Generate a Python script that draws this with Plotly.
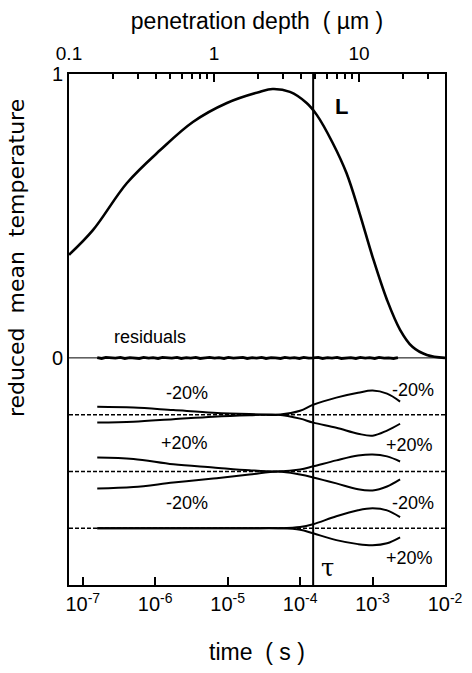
import plotly.graph_objects as go

# ---------------- data ----------------
# main curve: log10(time/s) and reduced mean temperature
main_logt = [-7.19, -6.86, -6.39, -5.93, -5.48, -5.01, -4.56, -4.38, -4.14, -3.91,
             -3.77, -3.55, -3.36, -3.18, -3.0, -2.80, -2.62, -2.45, -2.25, -2.0]
main_temp = [0.363, 0.45, 0.616, 0.732, 0.831, 0.898, 0.937, 0.947, 0.937, 0.898,
             0.856, 0.757, 0.651, 0.51, 0.356, 0.204, 0.099, 0.039, 0.01, 0.0]

# residuals (hand-read noise band around zero)
resid_logt = [-6.80, -6.74, -6.68, -6.61, -6.55, -6.48, -6.42, -6.35, -6.29, -6.22,
              -6.16, -6.09, -6.03, -5.96, -5.90, -5.83, -5.77, -5.70, -5.64, -5.57,
              -5.51, -5.44, -5.38, -5.31, -5.25, -5.18, -5.12, -5.05, -4.99, -4.92,
              -4.86, -4.79, -4.73, -4.66, -4.60, -4.53, -4.47, -4.40, -4.34, -4.27,
              -4.21, -4.14, -4.08, -4.01, -3.95, -3.88, -3.82, -3.75, -3.69, -3.62,
              -3.56, -3.49, -3.43, -3.36, -3.30, -3.23, -3.17, -3.10, -3.04, -2.97,
              -2.91, -2.84, -2.78, -2.71, -2.65]
resid_vals = [0.001, -0.002, 0.002, 0.000, -0.001, 0.002, -0.002, 0.001, 0.000, -0.002,
              0.002, -0.001, 0.001, -0.002, 0.002, 0.000, -0.001, 0.002, -0.002, 0.001,
              -0.001, 0.002, -0.002, 0.000, 0.002, -0.001, 0.001, -0.002, 0.002, -0.001,
              0.000, 0.002, -0.002, 0.001, -0.001, 0.002, -0.002, 0.001, 0.000, -0.002,
              0.002, -0.001, 0.001, -0.002, 0.002, -0.001, 0.000, 0.002, -0.002, 0.001,
              -0.001, 0.002, -0.002, 0.000, 0.001, -0.002, 0.002, -0.001, 0.001, -0.002,
              0.002, -0.001, 0.000, -0.002, 0.001]

# sensitivity curves (offsets from baseline)
sens_logt = [-6.8, -6.3, -5.75, -5.2, -4.7, -4.3, -4.0, -3.82, -3.5, -3.2, -3.0, -2.8, -2.62]
D_minus = [0.028, 0.025, 0.016, 0.007, 0.002, 0.0, 0.014, 0.035, 0.060, 0.077, 0.085, 0.074, 0.046]
D_plus = [-0.028, -0.025, -0.016, -0.007, -0.002, 0.0, -0.014, -0.028, -0.046, -0.067, -0.074, -0.056, -0.032]
K_plus = [0.049, 0.044, 0.025, 0.014, 0.004, 0.0, 0.007, 0.018, 0.039, 0.056, 0.060, 0.053, 0.035]
K_minus = [-0.060, -0.055, -0.039, -0.025, -0.011, 0.0, -0.011, -0.021, -0.042, -0.063, -0.067, -0.053, -0.028]
H_minus = [0.0, 0.0, 0.0, 0.0, 0.0, 0.0, 0.004, 0.014, 0.042, 0.063, 0.070, 0.063, 0.039]
H_plus = [0.0, 0.0, 0.0, 0.0, 0.0, 0.0, -0.005, -0.018, -0.042, -0.056, -0.060, -0.053, -0.032]

baselines = [-0.2, -0.4, -0.6]
param_names = ["D", "κ", "H<sub>L</sub>"]

tau_logt = -3.82

bottom_ticks = [-7, -6, -5, -4, -3, -2]
bottom_text = ["10<sup>-7</sup>", "10<sup>-6</sup>", "10<sup>-5</sup>",
               "10<sup>-4</sup>", "10<sup>-3</sup>", "10<sup>-2</sup>"]
top_ticks = [0.1, 1, 10]
top_text = ["0.1", "1", "10"]

# ---------------- figure ----------------
FONT = "Liberation Sans, Arial, sans-serif"
fig = go.Figure()

def T(lst):
    return [10 ** v for v in lst]

X0, X1 = 10 ** -7.19, 10 ** -2

# zero line and dashed baselines
fig.add_trace(go.Scatter(x=[X0, X1], y=[0, 0], mode="lines",
                         line=dict(color="black", width=1), hoverinfo="skip"))
for b in baselines:
    fig.add_trace(go.Scatter(x=[X0, X1], y=[b, b], mode="lines",
                             line=dict(color="black", width=1.5, dash="4px,2px"), hoverinfo="skip"))

# residuals
fig.add_trace(go.Scatter(x=T(resid_logt), y=resid_vals, mode="lines",
                         line=dict(color="black", width=2.8)))

# main curve
fig.add_trace(go.Scatter(x=T(main_logt), y=main_temp, mode="lines", line_shape="spline",
                         line=dict(color="black", width=2.6)))

# sensitivity curves
for base, up, lo in zip(baselines, [D_minus, K_plus, H_minus], [D_plus, K_minus, H_plus]):
    for off in (up, lo):
        fig.add_trace(go.Scatter(x=T(sens_logt), y=[base + v for v in off], mode="lines",
                                 line_shape="spline", line=dict(color="black", width=2)))

# invisible trace for top axis
fig.add_trace(go.Scatter(x=[1], y=[0.5], xaxis="x2", mode="markers",
                         marker=dict(opacity=0), hoverinfo="skip"))

# tau line
fig.add_shape(type="line", xref="x", yref="paper", x0=10 ** tau_logt, x1=10 ** tau_logt,
              y0=0, y1=1, line=dict(color="black", width=2))

ann_font = dict(family=FONT, size=18, color="black")
annotations = [
    dict(x=-3.424, y=0.884, text="<b>L</b>", font=dict(family=FONT, size=22, color="black")),
    dict(x=-6.07, y=0.074, text="residuals", font=ann_font),
    dict(x=-5.56, y=-0.123, text="-20%", font=ann_font),
    dict(x=-5.59, y=-0.30, text="+20%", font=ann_font),
    dict(x=-5.56, y=-0.51, text="-20%", font=ann_font),
    dict(x=-2.445, y=-0.113, text="-20%", font=ann_font),
    dict(x=-2.49, y=-0.306, text="+20%", font=ann_font),
    dict(x=-2.445, y=-0.51, text="-20%", font=ann_font),
    dict(x=-2.49, y=-0.704, text="+20%", font=ann_font),
    dict(x=-3.62, y=-0.74, text="τ", font=dict(family="DejaVu Serif, serif", size=24, color="black")),
]
for b, name in zip(baselines, param_names):
    annotations.append(dict(x=-1.80, y=b, text=name, font=dict(family=FONT, size=19, color="black")))
for a in annotations:
    a.update(xref="x", yref="y", showarrow=False)

# y-axis title as rotated annotation (positioned like the reference)
annotations.append(dict(xref="paper", yref="paper", x=-0.138, y=0.64,
                        xanchor="center", yanchor="middle", textangle=-90, showarrow=False,
                        text="reduced  mean  temperature",
                        font=dict(family="DejaVu Sans, sans-serif", size=22, color="black")))

fig.update_layout(
    width=472, height=673,
    margin=dict(l=69, r=27, t=74, b=88),
    paper_bgcolor="white", plot_bgcolor="white",
    showlegend=False,
    font=dict(family=FONT, color="black"),
    annotations=annotations,
    xaxis=dict(type="log", range=[-7.19, -2], tickvals=[10 ** v for v in bottom_ticks],
               ticktext=bottom_text, ticks="inside", ticklen=8, tickwidth=1.5,
               tickcolor="black", showline=True, linewidth=2, linecolor="black",
               showgrid=False, zeroline=False, tickfont=dict(size=20), automargin=False,
               title=dict(text="time  ( s )", font=dict(size=23), standoff=30)),
    xaxis2=dict(type="log", range=[-1, 1.593], overlaying="x", side="top", anchor="y",
                tickvals=top_ticks, ticktext=top_text, ticks="inside", ticklen=8, tickwidth=1.5,
                tickcolor="black", showline=True, linewidth=2, linecolor="black",
                minor=dict(ticks="inside", ticklen=5, tickwidth=1.5, tickcolor="black",
                           dtick="D1"),
                ticklabelstandoff=4,
                showgrid=False, zeroline=False, tickfont=dict(size=19), automargin=False,
                title=dict(text="penetration depth  ( µm )", font=dict(size=23), standoff=7)),
    yaxis=dict(range=[-0.8, 1.0], tickvals=[0, 1], ticktext=["0", "1"], ticks="",
               showline=True, linewidth=2, linecolor="black", mirror=True, automargin=False,
               showgrid=False, zeroline=False, tickfont=dict(size=20)),
)

fig.write_html("out.html")
